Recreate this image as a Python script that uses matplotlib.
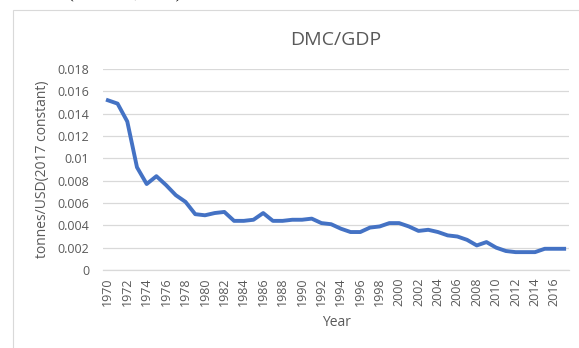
import matplotlib.pyplot as plt
from matplotlib.patches import Rectangle

# DMC/GDP series, tonnes per USD (2017 constant)
years = list(range(1970, 2018))
dmc_gdp = [
    0.0152, 0.0149, 0.0133, 0.0092, 0.0077, 0.0084, 0.0076, 0.0067, 0.0061, 0.0050,
    0.0049, 0.0051, 0.0052, 0.0044, 0.0044, 0.0045, 0.0051, 0.0044, 0.0044, 0.0045,
    0.0045, 0.0046, 0.0042, 0.0041, 0.0037, 0.0034, 0.0034, 0.0038, 0.0039, 0.0042,
    0.0042, 0.0039, 0.0035, 0.0036, 0.0034, 0.0031, 0.0030, 0.0027, 0.0022, 0.0025,
    0.0020, 0.0017, 0.0016, 0.0016, 0.0016, 0.0019, 0.0019, 0.0019,
]
y_ticks = [0, 0.002, 0.004, 0.006, 0.008, 0.01, 0.012, 0.014, 0.016, 0.018]
y_tick_labels = ['0', '0.002', '0.004', '0.006', '0.008', '0.01',
                 '0.012', '0.014', '0.016', '0.018']

grey = '#595959'
grid_grey = '#D9D9D9'

fig = plt.figure(figsize=(5.79, 3.48), dpi=100)

# cut-off line of page text above the chart
fig.text(0.005, 1.018, 'Australia (UN et al., 2016).', family='Liberation Serif',
         fontsize=12, color='black', va='center', ha='left')

# chart frame
fig.patches.append(Rectangle((13 / 579, -0.1), 1.0, 1.1 - 10 / 348,
                             transform=fig.transFigure, fill=False,
                             edgecolor=grid_grey, linewidth=0.8))

ax = fig.add_axes([103 / 579, 1 - 270 / 348, 466 / 579, 201 / 348])
idx = list(range(len(years)))
ax.plot(idx, dmc_gdp, color='#4472C4', linewidth=2.8, solid_joinstyle='round')

ax.set_xlim(-0.5, len(years) - 0.5)
ax.set_ylim(0, 0.018)
ax.set_yticks(y_ticks)
ax.set_yticklabels(y_tick_labels)
ax.set_xticks(idx[::2])
ax.set_xticklabels([str(y) for y in years[::2]], rotation=90)

ax.grid(axis='y', color=grid_grey, linewidth=0.9)
ax.set_axisbelow(True)
for s in ['top', 'right', 'left']:
    ax.spines[s].set_visible(False)
ax.spines['bottom'].set_color(grid_grey)
ax.spines['bottom'].set_linewidth(0.9)
ax.tick_params(length=0, labelsize=9, colors=grey)
ax.tick_params(axis='y', pad=10)
ax.tick_params(axis='x', pad=5.5)
for lab in ax.get_xticklabels() + ax.get_yticklabels():
    lab.set_family('Open Sans')

ax.set_title('DMC/GDP', fontsize=14, color=grey, family='Open Sans', pad=17)
ax.set_ylabel('tonnes/USD(2017 constant)', fontsize=10, color=grey,
              family='Open Sans', labelpad=5)
ax.set_xlabel('Year', fontsize=10, color=grey, family='Open Sans', labelpad=6)

fig.savefig('out.png', dpi=100)
